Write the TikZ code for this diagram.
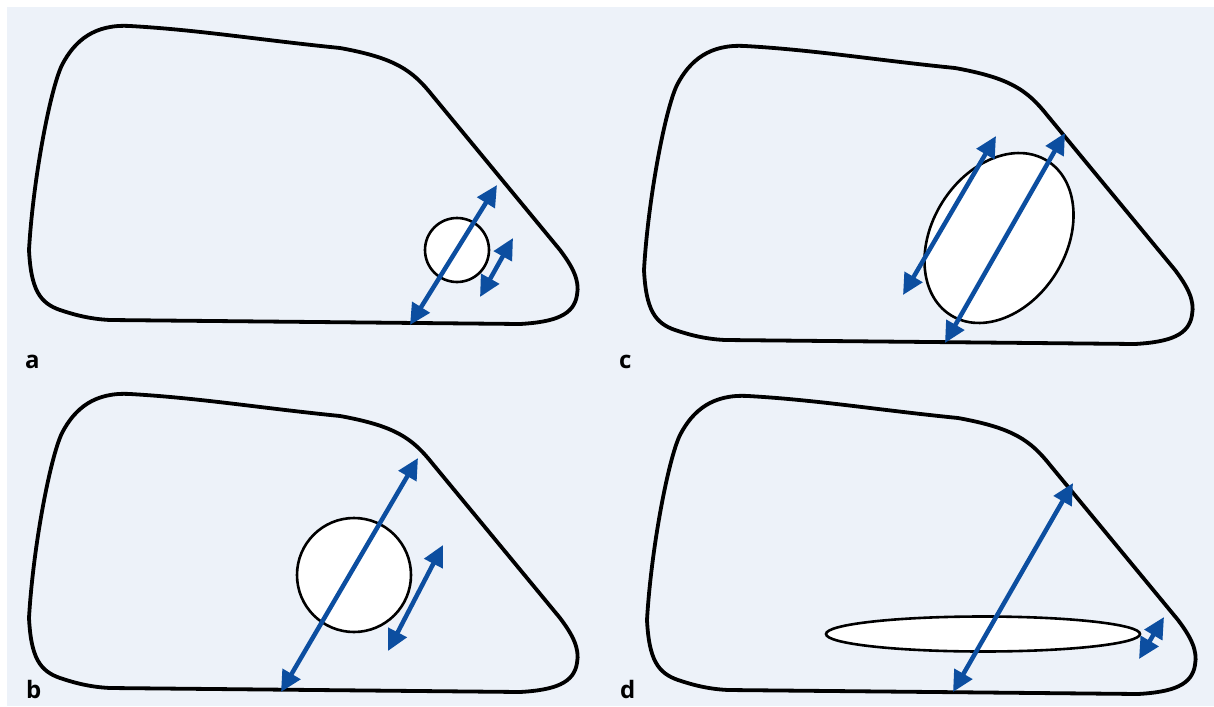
\documentclass[tikz,border=0pt]{standalone}
\usepackage{fontspec}
\setmainfont{Open Sans}
\usetikzlibrary{arrows.meta,shapes.geometric}
\definecolor{bg}{RGB}{237,242,249}
\definecolor{arr}{RGB}{12,78,160}
\begin{document}
\begin{tikzpicture}[x=1pt,y=-1pt,
  outline/.style={draw=black,line width=3.8pt,line join=round},
  hole/.style={draw=black,fill=white,line width=2.6pt,inner sep=0pt,outer sep=0pt},
  dbl/.style={draw=arr,line width=4.5pt,{Triangle[length=21pt,width=20pt]}-{Triangle[length=21pt,width=20pt]}},
  lab/.style={font=\bfseries\fontsize{24}{24}\selectfont,anchor=base west,inner sep=0pt},
  cell/.pic={
    \draw[outline] (110,320) -- (520,324)
      .. controls (555,322) and (574,315) .. (577,295)
      .. controls (580,280) and (572,266) .. (560,250)
      -- (432,95)
      .. controls (412,70) and (395,58) .. (340,48)
      .. controls (260,40) and (200,30) .. (130,26)
      .. controls (95,24) and (75,40) .. (62,65)
      .. controls (50,90) and (33,180) .. (29,250)
      .. controls (31,290) and (40,303) .. (60,310)
      .. controls (75,315) and (90,319) .. (110,320) -- cycle;
  }]
\useasboundingbox (0,0) rectangle (1214,706);
\fill[white] (0,0) rectangle (1214,706);
\fill[bg] (7,7) rectangle (1214,706);

% cell outlines
\pic (cellA) at (0,0) {cell};
\pic (cellB) at (0,368) {cell};
\pic (cellC) at (615,20) {cell};
\pic (cellD) at (618,370) {cell};

% inclusions
\node[hole,circle,minimum size=64pt] (holeA) at (457,250) {};
\node[hole,circle,minimum size=114pt] (holeB) at (354,575) {};
\node[hole,ellipse,minimum width=182pt,minimum height=134pt,rotate=58] (holeC) at (999,238) {};
\node[hole,ellipse,minimum width=314pt,minimum height=35pt] (holeD) at (983,634) {};

% arrow end points
\coordinate (a1s) at (410,325); \coordinate (a1e) at (497,185);
\coordinate (a2s) at (480,297); \coordinate (a2e) at (513,238);
\coordinate (b1s) at (281,692); \coordinate (b1e) at (418,458);
\coordinate (b2s) at (388,651); \coordinate (b2e) at (443,545);
\coordinate (c1s) at (945,343); \coordinate (c1e) at (1065,133);
\coordinate (c2s) at (903,295); \coordinate (c2e) at (996,136);
\coordinate (d1s) at (953,692); \coordinate (d1e) at (1073,483);
\coordinate (d2s) at (1139,659); \coordinate (d2e) at (1164,617);

\draw[dbl] (a1s) -- (a1e);
\draw[dbl] (a2s) -- (a2e);
\draw[dbl] (b1s) -- (b1e);
\draw[dbl] (b2s) -- (b2e);
\draw[dbl] (c1s) -- (c1e);
\draw[dbl] (c2s) -- (c2e);
\draw[dbl] (d1s) -- (d1e);
\draw[dbl] (d2s) -- (d2e);

% labels
\node[lab] (labA) at (25,368) {a};
\node[lab] (labB) at (26,698) {b};
\node[lab] (labC) at (619,368) {c};
\node[lab] (labD) at (620,698) {d};
\end{tikzpicture}
\end{document}
